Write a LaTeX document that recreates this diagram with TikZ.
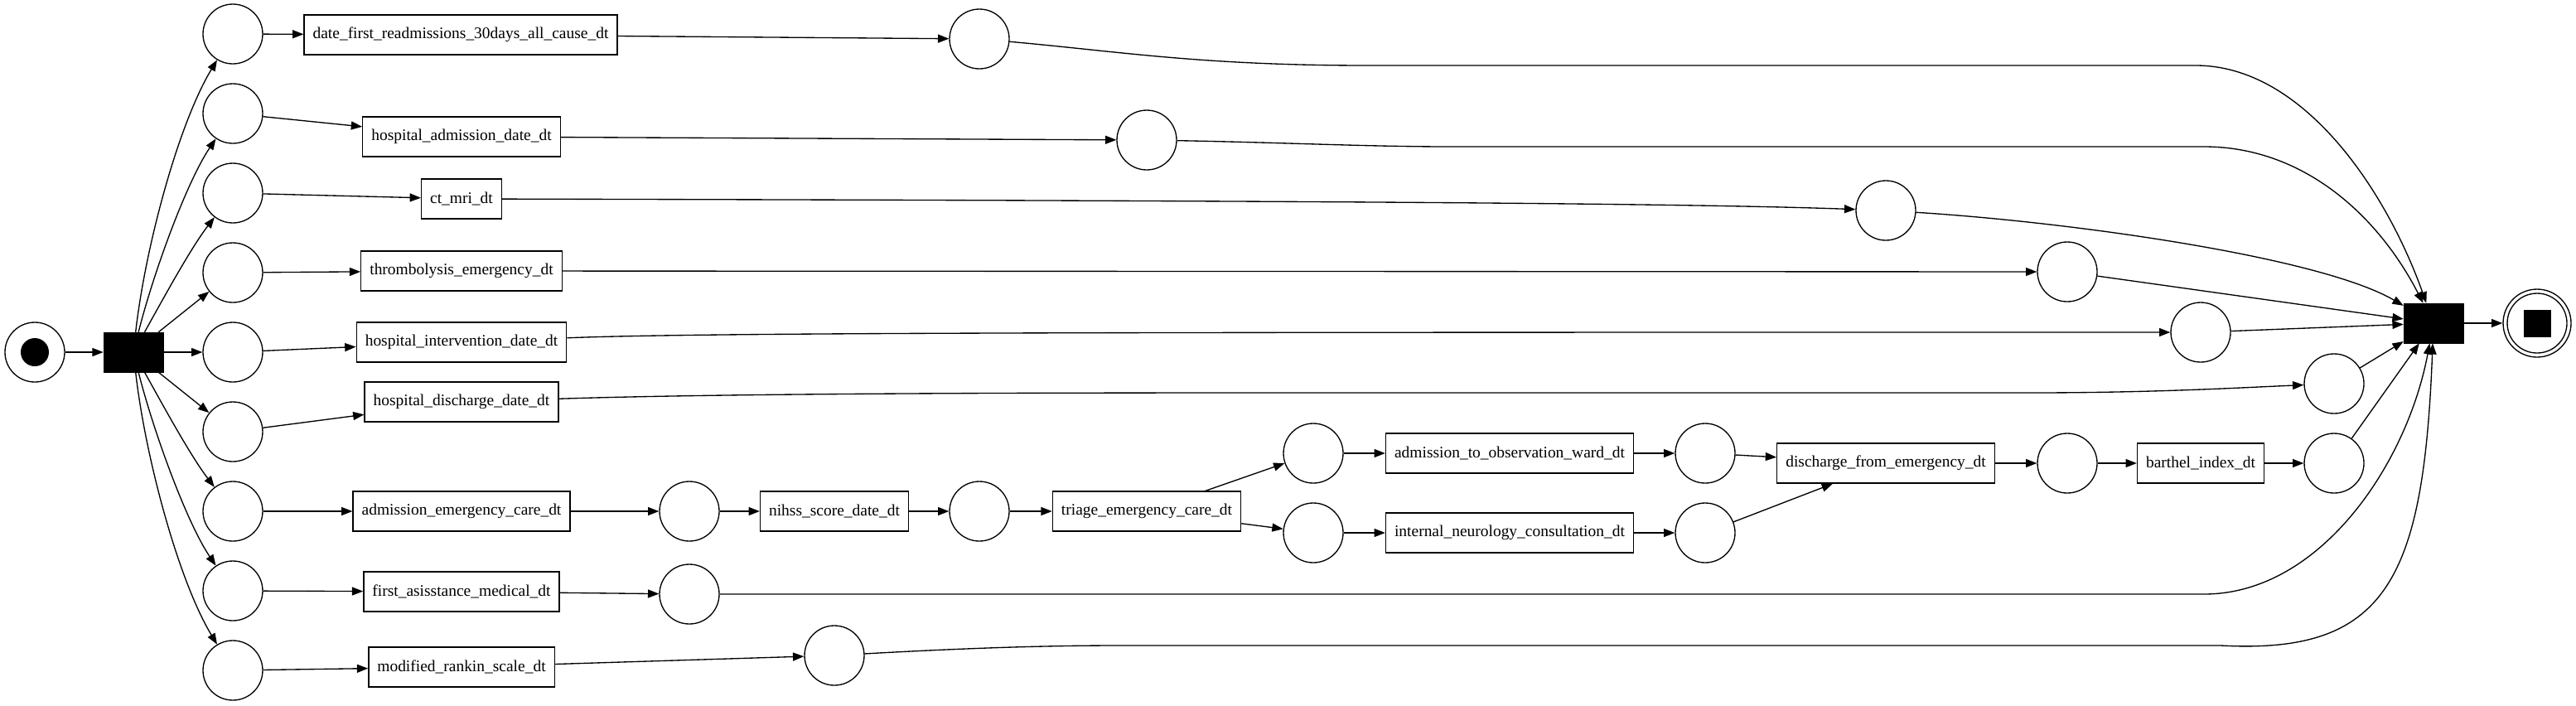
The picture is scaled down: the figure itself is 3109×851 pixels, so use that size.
\documentclass[tikz,border=0pt]{standalone}
\usepackage{fontspec}
\setmainfont{Liberation Serif}
\usetikzlibrary{arrows.meta}
\begin{document}
\begin{tikzpicture}[x=0.75pt,y=-0.75pt,
  every node/.style={font=\fontsize{14.6pt}{16pt}\selectfont},
  place/.style={circle,draw,line width=1pt,minimum size=54pt,inner sep=0pt},
  trans/.style={rectangle,draw,line width=1pt,minimum height=36pt,minimum width=54pt,inner xsep=7.9pt,inner ysep=0pt},
  silent/.style={rectangle,fill=black,draw=black,minimum width=54pt,minimum height=36pt,inner sep=0pt},
  arc/.style={line width=1pt,-{Triangle[length=10pt,width=7.5pt]}},
]
\useasboundingbox (0,0) rectangle (3109,851);
% start
\node[place] (ps) at (42,425) {};
\fill (ps.center) circle[radius=17];
\node[silent] (T0) at (161,425) {};
% first column places
\node[place] (q1) at (281,41) {};
\node[place] (q2) at (281,137) {};
\node[place] (q3) at (281,233) {};
\node[place] (q4) at (281,329) {};
\node[place] (q5) at (281,425) {};
\node[place] (q6) at (281,521) {};
\node[place] (q7) at (281,617) {};
\node[place] (q8) at (281,713) {};
\node[place] (q9) at (281,809) {};
% first column transitions
\node[trans] (r1) at (556,42) {date\_first\_readmissions\_30days\_all\_cause\_dt};
\node[trans] (r2) at (557,165) {hospital\_admission\_date\_dt};
\node[trans] (r3) at (557,240) {ct\_mri\_dt};
\node[trans] (r4) at (557,327) {thrombolysis\_emergency\_dt};
\node[trans] (r5) at (557,413) {hospital\_intervention\_date\_dt};
\node[trans] (r6) at (557,485) {hospital\_discharge\_date\_dt};
\node[trans] (r7) at (557,617) {admission\_emergency\_care\_dt};
\node[trans] (r8) at (557,714) {first\_asisstance\_medical\_dt};
\node[trans] (r9) at (557,805) {modified\_rankin\_scale\_dt};
% following places
\node[place] (s1) at (1182,47) {};
\node[place] (s2) at (1384,169) {};
\node[place] (s3) at (2276,254) {};
\node[place] (s4) at (2495,328) {};
\node[place] (s5) at (2656,401) {};
\node[place] (s6) at (2817,463) {};
\node[place] (s7) at (832,617) {};
\node[place] (s8) at (832,717) {};
\node[place] (s9) at (1007,791) {};
% middle chain
\node[trans] (nihss) at (1007,617) {nihss\_score\_date\_dt};
\node[place] (s7b) at (1182,617) {};
\node[trans] (triage) at (1384,617) {triage\_emergency\_care\_dt};
\node[place] (u1) at (1585,547) {};
\node[place] (u2) at (1585,643) {};
\node[trans] (obs) at (1822,547) {admission\_to\_observation\_ward\_dt};
\node[trans] (neu) at (1822,643) {internal\_neurology\_consultation\_dt};
\node[place] (v1) at (2058,547) {};
\node[place] (v2) at (2058,643) {};
\node[trans] (dfe) at (2276,559) {discharge\_from\_emergency\_dt};
\node[place] (w1) at (2495,559) {};
\node[trans] (barthel) at (2656,559) {barthel\_index\_dt};
\node[place] (w2) at (2817,559) {};
% end
\node[silent] (ET) at (2937,390) {};
\node[place,minimum size=61.5pt] (pe) at (3062,390) {};
\draw[line width=1pt] (pe.center) circle[radius=36];
\fill ([shift={(-16.5,-16.5)}]pe.center) rectangle ([shift={(16.5,16.5)}]pe.center);

% arcs
\draw[arc] (ps) -- (T0);
\draw[arc] (T0) .. controls (175,300) and (215,150) .. (q1);
\draw[arc] (T0) .. controls (185,330) and (225,220) .. (q2);
\draw[arc] (T0) .. controls (200,355) and (230,300) .. (q3);
\draw[arc] (T0) -- (q4);
\draw[arc] (T0) -- (q5);
\draw[arc] (T0) -- (q6);
\draw[arc] (T0) .. controls (200,495) and (230,550) .. (q7);
\draw[arc] (T0) .. controls (185,520) and (225,630) .. (q8);
\draw[arc] (T0) .. controls (175,550) and (215,700) .. (q9);

\draw[arc] (q1) -- (r1);
\draw[arc] (q2) -- (r2);
\draw[arc] (q3) -- (r3);
\draw[arc] (q4) -- (r4);
\draw[arc] (q5) -- (r5);
\draw[arc] (q6) -- (r6);
\draw[arc] (q7) -- (r7);
\draw[arc] (q8) -- (r8);
\draw[arc] (q9) -- (r9);

\draw[arc] (r1) -- (s1);
\draw[arc] (r2) -- (s2);
\draw[arc] (r3) .. controls (1400,242) and (2000,244) .. (s3);
\draw[arc] (r4) -- (s4);
\draw[arc] (r5) .. controls (850,401) and (1400,401) .. (s5);
\draw[arc] (r6) .. controls (900,474) and (1300,474) .. (1600,474) -- (2450,474) .. controls (2600,474) and (2700,468) .. (s6);
\draw[arc] (r7) -- (s7);
\draw[arc] (r8) -- (s8);
\draw[arc] (r9) -- (s9);

\draw[arc] (s7) -- (nihss);
\draw[arc] (nihss) -- (s7b);
\draw[arc] (s7b) -- (triage);
\draw[arc] (triage) -- (u1);
\draw[arc] (triage) -- (u2);
\draw[arc] (u1) -- (obs);
\draw[arc] (obs) -- (v1);
\draw[arc] (v1) -- (dfe);
\draw[arc] (u2) -- (neu);
\draw[arc] (neu) -- (v2);
\draw[arc] (v2) -- (dfe);
\draw[arc] (dfe) -- (w1);
\draw[arc] (w1) -- (barthel);
\draw[arc] (barthel) -- (w2);

\draw[arc] (s1) .. controls (1350,62) and (1450,79) .. (1650,79) -- (2650,79) .. controls (2780,79) and (2880,230) .. (ET);
\draw[arc] (s2) .. controls (1550,172) and (1650,177) .. (1750,177) -- (2660,177) .. controls (2780,177) and (2870,260) .. (ET);
\draw[arc] (s3) .. controls (2500,268) and (2800,310) .. (ET);
\draw[arc] (s4) -- (ET);
\draw[arc] (s5) -- (ET);
\draw[arc] (s6) -- (ET);
\draw[arc] (w2) -- (ET);
\draw[arc] (s8) -- (2660,717) .. controls (2800,717) and (2905,560) .. (ET);
\draw[arc] (s9) .. controls (1150,783) and (1250,779) .. (1350,779) -- (2680,779) .. controls (2880,790) and (2925,700) .. (ET);
\draw[arc] (ET) -- (pe);
\end{tikzpicture}
\end{document}
